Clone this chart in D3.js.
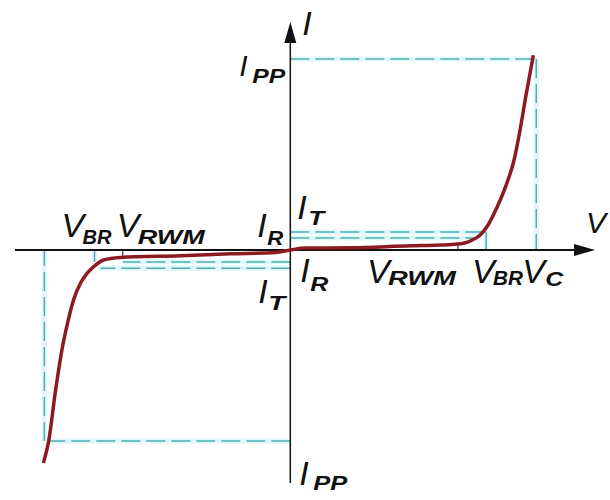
<!DOCTYPE html>
<html>
<head>
<meta charset="utf-8">
<script src="https://cdn.jsdelivr.net/npm/d3@7"></script>
<style>
  body { margin: 0; background: #fff; }
  text { font-family: "Liberation Sans", Arial, sans-serif; font-style: italic; fill: #111; }
</style>
</head>
<body>
<div id="chart-area"></div>
<script>
/* TVS diode I-V characteristic */

// characteristic values (volts, amps - schematic units)
const V_RWM = 6.85
const V_BR = 8.0
const V_C = 10.05
const I_PP = 100
const I_T = 9.5
const I_R = 6.3

// the I-V curve
const curveV = [-10.09, -9.88, -9.59, -9.31, -9.1, -8.86, -8.57, -8.29, -7.96, -7.63, -6.94, -4.49, -2.45, -0.6, 0,
	0.6, 2.45, 4.9, 6.12, 6.82, 7.35, 7.76, 8.08, 8.45, 8.82, 9.14, 9.39, 9.63, 9.93]
const curveI = [-111.5, -100.5, -73.3, -50.8, -38.2, -26.2, -17.3, -12, -7.9, -5.2, -3.9, -3.0, -2.0, -1.3, 0,
	1.0, 1.2, 2.2, 2.6, 3.1, 4.7, 7.9, 13.1, 22.5, 34, 47, 63, 81, 102]

// dashed guide lines [v0, i0, v1, i1]
const guides = [
	[0, I_PP, V_C, I_PP],
	[V_C, I_PP, V_C, 0],
	[0, I_T, V_BR, I_T],
	[V_BR, I_T, V_BR, 0],
	[0, I_R, 7.6, I_R],
	[0, -I_PP, -9.88, -I_PP],
	[-V_C, -I_PP, -V_C, 0],
	[0, -I_T, -7.76, -I_T],
	[0, -I_R, -V_RWM, -I_R],
	[-V_BR, 0, -V_BR, -I_R]
]

// solid markers at V_RWM [v, i]
const rwmTicks = [[V_RWM, 3.1], [-V_RWM, -3.7]]

/* Canvas */
const CANVAS_WIDTH = 610
const CANVAS_HEIGHT = 500

const $svg = d3.select('#chart-area')
	.append('svg')
	.attr('width', CANVAS_WIDTH)
	.attr('height', CANVAS_HEIGHT)

/* Scales */
const xScale = d3.scaleLinear()
	.domain([-11.25, 12.45])
	.range([15, 595])

const yScale = d3.scaleLinear()
	.domain([-122, 119.4])
	.range([483, 22])

const x0 = xScale(0)
const y0 = yScale(0)

/* Guides */
const $guides = $svg.append('g')

// faint cyan halo, like the original
$guides.selectAll('line.halo')
	.data(guides)
	.enter()
	.append('line')
	.attr('class', 'halo')
	.attr('x1', d => xScale(d[0]))
	.attr('y1', d => yScale(d[1]))
	.attr('x2', d => xScale(d[2]))
	.attr('y2', d => yScale(d[3]))
	.attr('stroke', '#dff8f9')
	.attr('stroke-width', 5)

$guides.selectAll('line.dash')
	.data(guides)
	.enter()
	.append('line')
	.attr('class', 'dash')
	.attr('x1', d => xScale(d[0]))
	.attr('y1', d => yScale(d[1]))
	.attr('x2', d => xScale(d[2]))
	.attr('y2', d => yScale(d[3]))
	.attr('stroke', '#52aeb4')
	.attr('stroke-width', 1.5)
	.attr('stroke-dasharray', '19,6')

$guides.selectAll('line.tick')
	.data(rwmTicks)
	.enter()
	.append('line')
	.attr('class', 'tick')
	.attr('x1', d => xScale(d[0]))
	.attr('y1', y0)
	.attr('x2', d => xScale(d[0]))
	.attr('y2', d => yScale(d[1]))
	.attr('stroke', '#555')
	.attr('stroke-width', 1.5)

/* Axes */
const $axes = $svg.append('g')

$axes.append('line')
	.attr('x1', xScale.range()[0])
	.attr('x2', xScale.range()[1] - 8)
	.attr('y1', y0)
	.attr('y2', y0)
	.attr('stroke', '#111')
	.attr('stroke-width', 2)

$axes.append('line')
	.attr('x1', x0)
	.attr('x2', x0)
	.attr('y1', yScale.range()[0])
	.attr('y2', yScale.range()[1] + 8)
	.attr('stroke', '#111')
	.attr('stroke-width', 1.5)

const xTip = xScale.range()[1]
const yTip = yScale.range()[1]

$axes.append('path')
	.attr('d', `M${xTip},${y0} L${xTip - 21},${y0 - 6} L${xTip - 21},${y0 + 6} Z`)
	.attr('fill', '#111')

$axes.append('path')
	.attr('d', `M${x0},${yTip} L${x0 - 6},${yTip + 21} L${x0 + 6},${yTip + 21} Z`)
	.attr('fill', '#111')

/* Curve */
const curveData = curveV.map((v, i) => [v, curveI[i]])

const line = d3.line()
	.x(d => xScale(d[0]))
	.y(d => yScale(d[1]))
	.curve(d3.curveMonotoneX)

$svg.append('path')
	.datum(curveData)
	.attr('d', line)
	.attr('fill', 'none')
	.attr('stroke', '#8c1a20')
	.attr('stroke-width', 3.5)
	.attr('stroke-linejoin', 'round')

/* Labels */
// main letter + subscript, placed relative to the point they name
const labels = [
	{ m: 'I', s: 'PP', at: [0, I_PP], dx: -51, dy: 17, sx: -38, sy: 24, sw: 33, size: 30 },
	{ m: 'I', s: 'T', at: [0, I_T], dx: 7, dy: -13, sx: 18, sy: -7, sw: 16 },
	{ m: 'I', s: 'R', at: [0, I_R], dx: -33, dy: -1, sx: -23, sy: 7, sw: 16 },
	{ m: 'I', s: 'R', at: [0, -I_R], dx: 10, dy: 20, sx: 20, sy: 29, sw: 18 },
	{ m: 'I', s: 'T', at: [0, -I_T], dx: -32, dy: 35, sx: -22, sy: 42, sw: 17 },
	{ m: 'V', s: 'BR', at: [-V_BR, 0], dx: -33, dy: -13, sx: -12, sy: -6, sw: 29 },
	{ m: 'V', s: 'RWM', at: [-V_RWM, 0], dx: -6, dy: -13, sx: 15, sy: -6, sw: 67 },
	{ m: 'V', s: 'RWM', at: [V_RWM, 0], dx: -91, dy: 33, sx: -70, sy: 35, sw: 68 },
	{ m: 'V', s: 'BR', at: [V_BR, 0], dx: -14, dy: 33, sx: 7, sy: 35, sw: 30 },
	{ m: 'V', s: 'C', at: [V_C, 0], dx: -14, dy: 33, sx: 9, sy: 36, sw: 18 },
	{ m: 'I', s: 'PP', at: [0, -I_PP], dx: 9, dy: 44, sx: 23, sy: 49, sw: 34 }
]

const $labels = $svg.append('g')

labels.forEach(d => {
	const px = xScale(d.at[0])
	const py = yScale(d.at[1])
	$labels.append('text')
		.attr('x', px + d.dx)
		.attr('y', py + d.dy)
		.attr('font-size', d.size || 34)
		.text(d.m)
	$labels.append('text')
		.attr('x', px + d.sx)
		.attr('y', py + d.sy)
		.attr('font-size', 21)
		.attr('font-weight', 'bold')
		.attr('textLength', d.sw)
		.attr('lengthAdjust', 'spacingAndGlyphs')
		.text(d.s)
})

// axis names
$labels.append('text')
	.attr('x', x0 + 12)
	.attr('y', yTip + 13)
	.attr('font-size', 34)
	.text('I')

$labels.append('text')
	.attr('x', xTip - 9)
	.attr('y', y0 - 17)
	.attr('font-size', 30)
	.text('V')
</script>
</body>
</html>
